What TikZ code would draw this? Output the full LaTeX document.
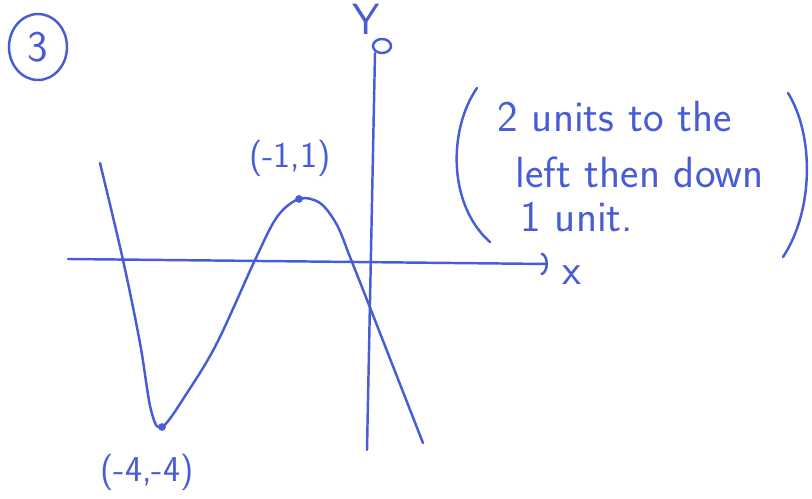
\documentclass[tikz,border=0pt]{standalone}
\usepackage{tikz}
\usetikzlibrary{arrows.meta,shapes.geometric}
\definecolor{penblue}{RGB}{72,92,212}

\begin{document}
\begin{tikzpicture}[thick,x=0.02cm,y=-0.02cm]
	\tikzset{ink/.style={draw=penblue, line width=1.4pt, line cap=round, line join=round},
	         hand/.style={text=penblue, font=\sffamily\Huge, inner sep=0pt},
	         dot/.style={fill=penblue}}
	\useasboundingbox (0,0) rectangle (812,499);

	%---NODES---
	\node[ellipse, ink, minimum width=1.16cm, minimum height=1.32cm, hand] (q) at (38,47) {3};
	\node[ellipse, ink, inner sep=0pt, minimum width=0.36cm, minimum height=0.28cm] (o) at (382,46) {};
	\node[hand] (ylab) at (366,19) {Y};
	\node[hand] (xlab) at (572,275) {x};

	\coordinate (xl) at (68,259);
	\coordinate (xr) at (548,264);
	\coordinate (yt) at (375,53);
	\coordinate (yb) at (367,450);

	\coordinate (c0) at (100,163);
	\coordinate (c1) at (123,260);
	\coordinate (c2) at (140,343);
	\coordinate (c3) at (151,410);
	\coordinate (mn) at (162,427);
	\coordinate (c4) at (187,393);
	\coordinate (c5) at (217,343);
	\coordinate (c6) at (255,260);
	\coordinate (c7) at (277,217);
	\coordinate (mx) at (299,199);
	\coordinate (c8) at (320,203);
	\coordinate (c9) at (337,225);
	\coordinate (c10) at (350,257);
	\coordinate (c11) at (369,305);
	\coordinate (c13) at (423,443);

	%---EDGES---
	\draw[ink,-{Arc Barb[width=13pt,length=4pt]}]   (xl) -- (xr) ;
	\draw[ink]   (yb) -- (yt) ;
	\draw[ink]   plot[smooth,tension=0.55] coordinates {(c0) (c1) (c2) (c3) (mn) (c4) (c5) (c6) (c7) (mx) (c8) (c9) (c10) (c11) (c13)} ;
	\fill[dot]   (mx) circle (2.2pt) ;
	\fill[dot]   (mn) circle (2.2pt) ;

	%---LABELS---
	\node[hand, font=\sffamily\huge] (lmx) at (290,158) {(-1,1)};
	\node[hand, font=\sffamily\huge] (lmn) at (147,472) {(-4,-4)};

	\node[hand, anchor=base west] (l1) at (497,132) {2 units to the};
	\node[hand, anchor=base west] (l2) at (515,188) {left then down};
	\node[hand, anchor=base west] (l3) at (520,232) {1 unit.};

	\coordinate (pl1) at (477,88);
	\coordinate (pl2) at (490,242);
	\coordinate (pr1) at (788,93);
	\coordinate (pr2) at (783,257);
	\draw[ink]   (pl1) .. controls (448,130) and (448,205) .. (pl2) ;
	\draw[ink]   (pr1) .. controls (814,135) and (814,210) .. (pr2) ;

\end{tikzpicture}
\end{document}
